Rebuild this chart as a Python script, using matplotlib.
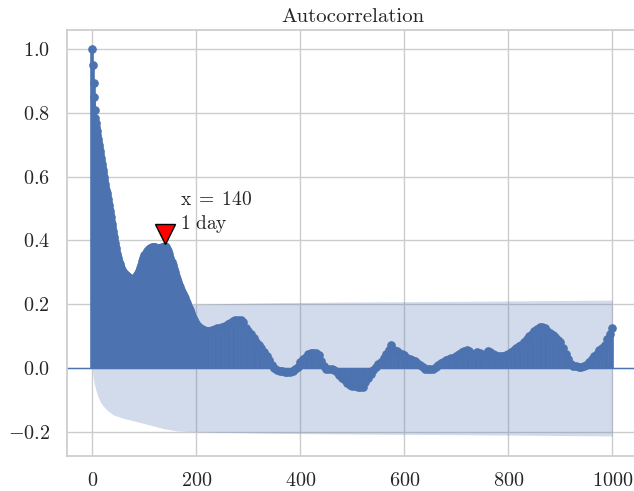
import matplotlib
matplotlib.use("Agg")
import matplotlib.pyplot as plt

# ---------------- data ----------------
# lags 0..69 (every lag)
lags_a = list(range(0, 70))
acf_a = [
    1.000, 0.950, 0.895, 0.850, 0.810, 0.785, 0.768, 0.756, 0.743, 0.730,
    0.718, 0.709, 0.700, 0.690, 0.680, 0.670, 0.660, 0.650, 0.640, 0.630,
    0.620, 0.610, 0.599, 0.589, 0.578, 0.568, 0.559, 0.549, 0.540, 0.531,
    0.522, 0.512, 0.502, 0.492, 0.482, 0.472, 0.462, 0.451, 0.441, 0.430,
    0.420, 0.411, 0.402, 0.393, 0.384, 0.375, 0.367, 0.359, 0.352, 0.345,
    0.338, 0.332, 0.326, 0.320, 0.315, 0.310, 0.307, 0.304, 0.301, 0.299,
    0.297, 0.296, 0.294, 0.293, 0.291, 0.290, 0.288, 0.287, 0.285, 0.284,
]
# lags 70..220 (every 2nd lag)
lags_b = list(range(70, 221, 2))
acf_b = [
    0.283, 0.281, 0.279, 0.279, 0.279, 0.280, 0.283, 0.287, 0.292, 0.298,
    0.305, 0.314, 0.324, 0.335, 0.345, 0.353,
    0.360, 0.366, 0.370, 0.374, 0.376, 0.377, 0.378, 0.378, 0.378, 0.378,
    0.377, 0.376, 0.376, 0.376, 0.376,
    0.377, 0.378, 0.379, 0.381, 0.382, 0.381, 0.374, 0.366, 0.356, 0.345,
    0.334, 0.323, 0.312, 0.301, 0.290,
    0.280, 0.270, 0.261, 0.253, 0.245, 0.238, 0.231, 0.225, 0.218, 0.210,
    0.203, 0.196, 0.189, 0.181, 0.172,
    0.164, 0.157, 0.150, 0.144, 0.138, 0.134, 0.130, 0.126, 0.123, 0.121,
    0.119, 0.118, 0.117, 0.116, 0.116,
]
# lags 225..1000 (every 5th lag)
lags_c = list(range(225, 1001, 5))
acf_c = [
    0.117, 0.120, 0.122, 0.124, 0.126, 0.128, 0.132,
    0.137, 0.142, 0.147, 0.150, 0.151, 0.150, 0.143, 0.127, 0.117, 0.106,
    0.095, 0.083, 0.073, 0.062, 0.050, 0.037, 0.024, 0.010, 0.000, -0.006,
    -0.009, -0.010, -0.011, -0.012, -0.012, -0.008, -0.002, 0.004, 0.018, 0.027,
    0.036, 0.043, 0.046, 0.046, 0.046, 0.042, 0.022, 0.006, -0.003, -0.003,
    -0.004, -0.007, -0.014, -0.022, -0.030, -0.038, -0.046, -0.052, -0.055, -0.057,
    -0.058, -0.060, -0.058, -0.044, -0.032, -0.018, -0.006, 0.004, 0.012, 0.020,
    0.032, 0.043, 0.058, 0.072, 0.057, 0.052, 0.048, 0.045, 0.040, 0.032,
    0.027, 0.024, 0.021, 0.017, 0.011, 0.004, -0.002, -0.003, -0.003, -0.002,
    0.004, 0.010, 0.015, 0.019, 0.025, 0.029, 0.030, 0.031, 0.038, 0.045,
    0.050, 0.053, 0.056, 0.054, 0.045, 0.044, 0.050, 0.048, 0.042, 0.043,
    0.054, 0.050, 0.044, 0.040, 0.039, 0.038, 0.038, 0.040, 0.045, 0.049,
    0.055, 0.062, 0.068, 0.073, 0.082, 0.090, 0.099, 0.108, 0.117, 0.123,
    0.128, 0.129, 0.125, 0.117, 0.110, 0.103, 0.096, 0.089, 0.080, 0.062,
    0.045, 0.028, 0.013, 0.007, 0.005, 0.004, 0.004, 0.005, 0.008, 0.018,
    0.028, 0.037, 0.045, 0.055, 0.062, 0.073, 0.090, 0.106, 0.124,
]

# 95% confidence band half-width (centred on zero)
band_lags = [0, 1, 2, 3, 4, 5, 6, 8, 10, 15, 20, 28, 40, 60, 85, 111, 136,
             162, 194, 250, 361, 500, 700, 850, 1000]
band_half = [0.0, 0.022, 0.035, 0.045, 0.053, 0.060, 0.066, 0.077, 0.087,
             0.106, 0.118, 0.132, 0.147, 0.158, 0.168, 0.179, 0.190, 0.197,
             0.200, 0.202, 0.205, 0.207, 0.209, 0.211, 0.213]

mark_lag = 140
mark_val = 0.42
label_line1 = r"$\mathrm{x\;=\;140}$"
label_line2 = r"$\mathrm{1\ day}$"

x_ticks = [0, 200, 400, 600, 800, 1000]
y_ticks = [-0.2, 0.0, 0.2, 0.4, 0.6, 0.8, 1.0]

# ---------------- style ----------------
plt.rcParams.update({
    "font.family": "cmr10",
    "axes.formatter.use_mathtext": True,
    "mathtext.fontset": "cm",
    "axes.unicode_minus": True,
})

C0 = "#4C72B0"
TXT = "#262626"

fig = plt.figure(figsize=(6.34, 4.91), dpi=100)
ax = fig.add_axes([66.5 / 634, 35.3 / 491, 571.8 / 634, 425.7 / 491])

lags = lags_a + lags_b + lags_c
acf = acf_a + acf_b + acf_c

ax.vlines(lags, 0, acf, colors=C0, linewidth=2.6)
ax.axhline(0, color=C0, linewidth=1.0)
ax.plot(lags, acf, "o", color=C0, markersize=5.2, markeredgewidth=1.0)
ax.fill_between(band_lags, [-b for b in band_half], band_half,
                color=C0, alpha=0.25, linewidth=0)

ax.plot([mark_lag], [mark_val], "v", color="red", markeredgecolor="black",
        markersize=14, markeredgewidth=1.0, zorder=5)
ax.text(168, 0.511, label_line1, fontsize=14, color=TXT,
        ha="left", va="baseline")
ax.text(168, 0.435, label_line2, fontsize=14, color=TXT,
        ha="left", va="baseline")

ax.set_xlim(-50, 1050)
ax.set_ylim(-0.275, 1.06)
ax.set_xticks(x_ticks)
ax.set_yticks(y_ticks)

ax.set_axisbelow(True)
ax.grid(True, color="#cccccc", linewidth=1.0)
for sp in ax.spines.values():
    sp.set_color("#cccccc")
    sp.set_linewidth(1.25)
ax.tick_params(axis="both", length=0, labelsize=14.5, colors=TXT)
ax.tick_params(axis="y", pad=12)
ax.tick_params(axis="x", pad=12)

ax.set_title("Autocorrelation", fontsize=15, color=TXT, pad=6)

fig.savefig("out.png", dpi=100)
